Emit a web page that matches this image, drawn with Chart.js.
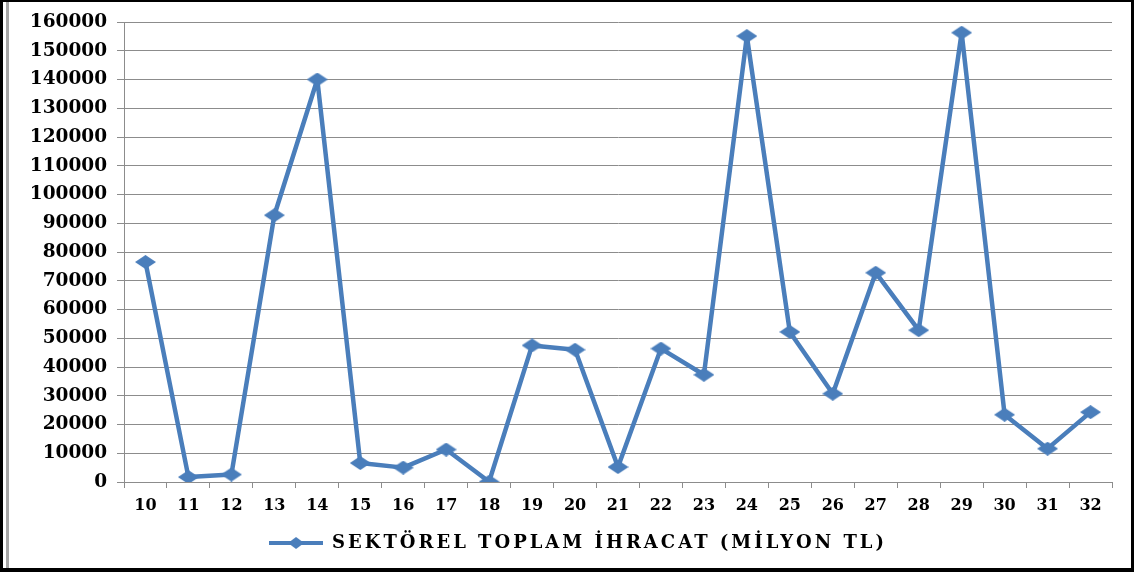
<!DOCTYPE html>
<html>
<head>
<meta charset="utf-8">
<script src="https://cdn.jsdelivr.net/npm/chart.js@4/dist/chart.umd.min.js"></script>
<style>
  html, body { margin: 0; padding: 0; background: #fff; }
  #wrap { position: relative; width: 1134px; height: 572px; }
  #frame {
    position: absolute; left: 0; top: 0; right: 0; bottom: 0;
    border-top: 2px solid #000; border-right: 3px solid #000;
    border-bottom: 4px solid #000; border-left: 3px solid #000;
    pointer-events: none;
  }
  #inner { position: absolute; left: 6px; top: 2px; bottom: 4px; width: 3px; background: #a6a6a6; pointer-events: none; }
</style>
</head>
<body>
<div id="wrap">
  <canvas id="exportChart"></canvas>
  <div id="frame"></div>
  <div id="inner"></div>
</div>
<script>
const categories = ["10", "11", "12", "13", "14", "15", "16", "17", "18", "19", "20", "21",
  "22", "23", "24", "25", "26", "27", "28", "29", "30", "31", "32"];
const exportValues = [76500, 1700, 2600, 92800, 140000, 6600, 5000, 11300, 100, 47500, 46000, 5200,
  46400, 37300, 155100, 52200, 30700, 72800, 52800, 156300, 23400, 11600, 24300];
const seriesName = "SEKTÖREL TOPLAM İHRACAT (MİLYON TL)";
const yMin = 0, yMax = 160000, yStep = 10000;

const lineColor = "#4a7ebb";
const gridColor = "#8c8c8c";
const fontFamily = "'DejaVu Serif', 'Liberation Serif', serif";

function makeDiamond(w, h) {
  const c = document.createElement("canvas");
  c.width = w; c.height = h;
  const g = c.getContext("2d");
  g.fillStyle = lineColor;
  g.beginPath();
  g.moveTo(w / 2, 0); g.lineTo(w, h / 2); g.lineTo(w / 2, h); g.lineTo(0, h / 2);
  g.closePath();
  g.fill();
  return c;
}

function makeLegendIcon() {
  const c = document.createElement("canvas");
  c.width = 54; c.height = 14;
  const g = c.getContext("2d");
  g.strokeStyle = lineColor;
  g.lineWidth = 4;
  g.beginPath(); g.moveTo(0, 7); g.lineTo(54, 7); g.stroke();
  g.drawImage(makeDiamond(16, 12), 19, 1);
  return c;
}

const pointImg = makeDiamond(21, 14);
const legendIcon = makeLegendIcon();

const ctx = document.getElementById("exportChart").getContext("2d");
const chart = new Chart(ctx, {
  type: "line",
  data: {
    labels: categories,
    datasets: [{
      label: seriesName,
      data: exportValues,
      borderColor: lineColor,
      backgroundColor: lineColor,
      borderWidth: 4.5,
      borderJoinStyle: "round",
      tension: 0,
      pointStyle: pointImg,
      pointRadius: 10,
    }],
  },
  options: {
    responsive: true,
    maintainAspectRatio: false,
    animation: false,
    layout: { padding: { top: 22, right: 22, left: 0, bottom: 10 } },
    plugins: {
      tooltip: { enabled: false },
      legend: {
        position: "bottom",
        labels: {
          usePointStyle: true,
          pointStyleWidth: 54,
          padding: 10,
          color: "#000",
          font: { family: fontFamily, size: 18, weight: "bold" },
          generateLabels: (c) => {
            const items = Chart.defaults.plugins.legend.labels.generateLabels(c);
            items.forEach((i) => { i.pointStyle = legendIcon; });
            return items;
          },
        },
      },
    },
    scales: {
      x: {
        offset: true,
        afterFit: (s) => { s.height = 42; },
        grid: { offset: true, drawOnChartArea: false, tickLength: 6, color: gridColor },
        border: { color: gridColor },
        ticks: { color: "#000", padding: 8, maxRotation: 0, font: { family: fontFamily, size: 16, weight: "bold" } },
      },
      y: {
        min: yMin,
        max: yMax,
        afterFit: (s) => { s.width = 124; },
        grid: { color: gridColor, tickLength: 7 },
        border: { color: gridColor },
        ticks: {
          stepSize: yStep,
          color: "#000",
          padding: 10,
          font: { family: fontFamily, size: 18.5, weight: "bold" },
          callback: (v) => String(v),
        },
      },
    },
  },
});

// the legend text in the original is set wide, so space its letters out a little
// and move it a bit right, where the original has it
const lg = chart.legend;
const origFit = lg.fit.bind(lg);
const origDraw = lg.draw.bind(lg);
lg.fit = function () {
  this.ctx.letterSpacing = "3px";
  origFit();
  this.ctx.letterSpacing = "0px";
};
lg.draw = function () {
  this.ctx.save();
  this.ctx.letterSpacing = "3px";
  this.ctx.translate(22, 0);
  origDraw();
  this.ctx.restore();
};
chart.update();
</script>
</body>
</html>
